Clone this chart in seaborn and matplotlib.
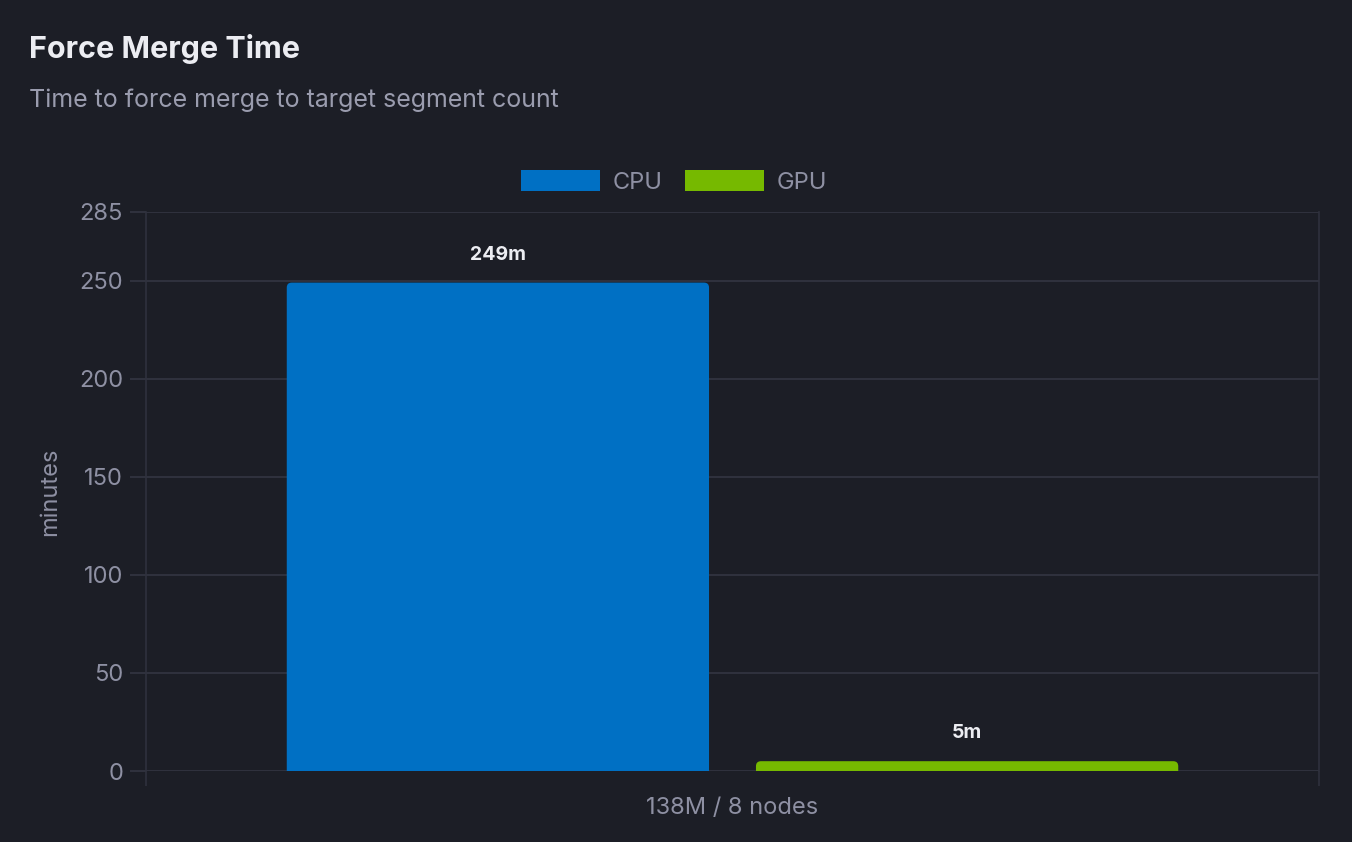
import matplotlib
matplotlib.use("Agg")
import matplotlib.pyplot as plt
import seaborn as sns
import pandas as pd
from matplotlib.patches import FancyBboxPatch, Patch

# ---- data ----
categories = ["138M / 8 nodes"]
series = ["CPU", "GPU"]
minutes = [249, 5]
value_labels = ["249m", "5m"]
y_ticks = [0, 50, 100, 150, 200, 250, 285]

BG = "#1c1e26"
GRID = "#2f313d"
TICK_TXT = "#8e90a3"
TITLE_TXT = "#ecedf2"
SUB_TXT = "#9a9cae"
colors = {"CPU": "#0070c4", "GPU": "#76b900"}

df = pd.DataFrame({"cat": categories * len(series), "series": series, "minutes": minutes})

sns.set_theme(style="dark")
plt.rcParams["font.family"] = ["Inter", "DejaVu Sans"]

fig = plt.figure(figsize=(13.52, 8.42), dpi=100, facecolor=BG)
ax = fig.add_axes([146 / 1352, 1 - 771 / 842, (1319 - 146) / 1352, (771 - 212) / 842])
ax.set_facecolor(BG)

sns.barplot(data=df, x="cat", y="minutes", hue="series", palette=colors,
            width=0.8, gap=0.1, ax=ax, legend=False, saturation=1, zorder=3)

ax.set_xlim(-0.5, 0.5)
ax.set_ylim(0, 285)

# rounded tops
fig.canvas.draw()
xpp = 1.0 / 1173
ypp = 285.0 / 559
r_px = 5
for p in list(ax.patches):
    x0, y0 = p.get_x(), p.get_y()
    w, h = p.get_width(), p.get_height()
    fc = p.get_facecolor()
    p.remove()
    rb = FancyBboxPatch((x0, y0 - r_px * ypp * 2), w, h + r_px * ypp * 2,
                        boxstyle=f"round,pad=0,rounding_size={r_px * xpp}",
                        mutation_aspect=ypp / xpp, facecolor=fc, edgecolor="none",
                        zorder=3, clip_on=True)
    ax.add_patch(rb)

# value labels
centers = [-0.2, 0.2]
for cx, v, lab in zip(centers, minutes, value_labels):
    ax.annotate(lab, xy=(cx, v), xytext=(0, 28), textcoords="offset pixels",
                ha="center", va="center", color=TITLE_TXT, fontsize=14,
                fontweight="bold", zorder=5)

# axes styling
FS = 17
ax.set_yticks(y_ticks)
ax.set_yticklabels([str(t) for t in y_ticks])
ax.grid(axis="y", color=GRID, linewidth=1.5, zorder=0)
ax.grid(axis="x", visible=False)
ax.tick_params(axis="y", length=11.5, width=1.5, color=GRID, labelcolor=TICK_TXT,
               labelsize=FS, pad=5, left=True)
ax.set_xticks([0])
ax.set_xticklabels(categories)
ax.set_xticks([-0.5, 0.5], minor=True)
ax.tick_params(axis="x", which="major", length=0, labelsize=FS, labelcolor=TICK_TXT, pad=19)
ax.tick_params(axis="x", which="minor", length=11, width=1.2, color=GRID, bottom=True)
ax.set_xlabel("")
ax.set_ylabel("minutes", color=TICK_TXT, fontsize=FS)
ax.yaxis.set_label_coords((61 - 146) / 1173, 0.5)

ax.spines["top"].set_visible(False)
ax.spines["bottom"].set_visible(False)
for s in ["left", "right"]:
    ax.spines[s].set_color(GRID)
    ax.spines[s].set_linewidth(1.2)

# legend
handles = [Patch(facecolor=colors[s], edgecolor="none", label=s) for s in series]
leg = fig.legend(handles=handles, loc="center", bbox_to_anchor=(674 / 1352, 1 - 182 / 842),
                 ncol=2, frameon=False, fontsize=FS, handlelength=3.35, handleheight=1.0,
                 handletextpad=0.55, columnspacing=0.93, labelcolor=TICK_TXT)

# title / subtitle
fig.text(29 / 1352, 1 - 49 / 842, "Force Merge Time", color=TITLE_TXT, fontsize=22,
         fontweight="bold", va="center", ha="left")
fig.text(29 / 1352, 1 - 100 / 842, "Time to force merge to target segment count",
         color=SUB_TXT, fontsize=18, va="center", ha="left")

fig.savefig("out.png", dpi=100, facecolor=BG)
